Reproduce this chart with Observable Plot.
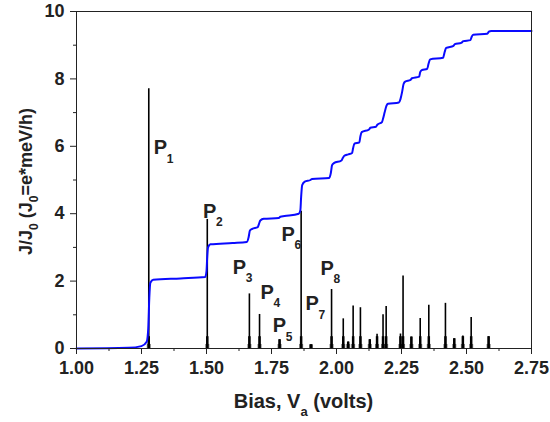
<!DOCTYPE html>
<html><head><meta charset="utf-8">
<script src="https://cdn.jsdelivr.net/npm/d3@7"></script>
<script src="https://cdn.jsdelivr.net/npm/@observablehq/plot@0.6"></script>
<style>
body{margin:0;background:#fff}
svg{font-family:"Liberation Sans",Arial,Helvetica,sans-serif}
</style>
</head><body><div id="chart"></div>
<script>
// Blue curve: current J/J0 vs bias (staircase)
const currentBias = [1.00,1.20,1.25,1.27,1.276,1.28,1.284,1.295,1.40,1.495,1.500,1.503,1.506,1.515,1.60,1.655,1.662,1.667,1.676,1.697,1.702,1.707,1.72,1.778,1.784,1.80,1.855,1.861,1.864,1.868,1.878,1.90,1.906,1.972,1.978,1.983,1.99,2.019,2.024,2.03,2.045,2.06,2.064,2.069,2.088,2.092,2.097,2.125,2.13,2.152,2.157,2.175,2.18,2.185,2.192,2.198,2.24,2.246,2.252,2.258,2.264,2.285,2.29,2.318,2.322,2.328,2.349,2.354,2.36,2.41,2.416,2.422,2.45,2.455,2.48,2.488,2.515,2.52,2.526,2.58,2.586,2.595,2.75];
const currentJ = [0,0.02,0.07,0.2,0.6,1.5,1.95,2.04,2.08,2.12,2.3,2.75,3.0,3.09,3.13,3.16,3.3,3.5,3.55,3.6,3.7,3.8,3.85,3.87,3.91,3.93,4.0,4.1,4.5,4.85,4.95,5.0,5.03,5.06,5.2,5.44,5.5,5.58,5.65,5.72,5.76,5.8,5.95,6.08,6.12,6.3,6.42,6.5,6.55,6.58,6.64,6.72,6.85,7.0,7.2,7.26,7.3,7.4,7.6,7.85,7.92,7.97,8.02,8.07,8.2,8.26,8.3,8.45,8.58,8.63,8.8,8.92,8.98,9.03,9.07,9.12,9.15,9.25,9.31,9.34,9.4,9.42,9.42];

// Black spectrum: resonance peaks (bias position, peak height)
const peakBias = [1.278,1.503,1.665,1.704,1.781,1.864,1.902,1.981,2.026,2.045,2.064,2.092,2.128,2.156,2.179,2.191,2.246,2.256,2.288,2.322,2.355,2.419,2.453,2.486,2.518,2.585];
const peakJ    = [7.71,3.83,1.62,1.01,0.26,4.07,0.11,1.75,0.88,0.19,1.26,1.21,0.26,0.42,1.00,1.25,0.43,2.15,0.34,0.89,1.28,1.34,0.29,0.37,0.92,0.35];

// Peak labels
const labelNum  = ["1","2","3","4","5","6","7","8"];
const labelBias = [1.297,1.487,1.601,1.708,1.755,1.788,1.881,1.938];
const labelJ    = [5.76,3.87,2.22,1.47,0.48,3.20,1.13,2.19];

// Axis ticks
const xTicks = [1.00,1.25,1.50,1.75,2.00,2.25,2.50,2.75];
const xMinor = [1.125,1.375,1.625,1.875,2.125,2.375,2.625];
const yTicks = [0,2,4,6,8,10];
const yMinor = [1,3,5,7,9];

const curve = currentBias.map((b,i)=>({bias:b, j:currentJ[i]}));
const peaks = peakBias.map((b,i)=>({bias:b, j:peakJ[i]}));
const labels = labelNum.map((n,i)=>({n, bias:labelBias[i], j:labelJ[i]}));

const ink = "#222";
const chart = Plot.plot({
  width: 550, height: 422,
  marginLeft: 76, marginRight: 19, marginTop: 11, marginBottom: 74,
  x: {domain: [1, 2.75]},
  y: {domain: [0, 10]},
  style: {fontSize: "18px", fontWeight: "bold", color: ink, background: "#fff", overflow: "visible"},
  marks: [
    // widened feet of the resonance lines
    Plot.ruleX(peaks, {x: "bias", y1: 0, y2: d => Math.min(d.j, 0.12), stroke: "#000", strokeWidth: 4, strokeOpacity: 0.55}),
    Plot.ruleX(peaks, {x: "bias", y1: 0, y2: d => Math.min(d.j, 0.35), stroke: "#000", strokeWidth: 2.5}),
    Plot.ruleX(peaks, {x: "bias", y1: 0, y2: "j", stroke: "#000", strokeWidth: 1.6}),
    Plot.ruleY([0], {stroke: "#000", strokeWidth: 1}),
    Plot.line(curve, {x: "bias", y: "j", stroke: "#0a0aff", strokeWidth: 2, curve: "monotone-x"}),
    Plot.text(labels, {x: "bias", y: "j", text: () => "P", textAnchor: "start", lineAnchor: "middle", dy: -6.4, fontSize: 20, fill: ink}),
    Plot.text(labels, {x: "bias", y: "j", text: "n", textAnchor: "start", lineAnchor: "middle", dx: 13, dy: 4.5, fontSize: 12, fill: ink}),
    Plot.axisX(xTicks, {anchor: "bottom", tickSize: 6, tickPadding: 7, tickFormat: d3.format(".2f"), label: null, stroke: ink}),
    Plot.axisX(xMinor, {anchor: "bottom", tickSize: 3, tickFormat: () => "", label: null, stroke: ink}),
    Plot.axisY(yTicks, {anchor: "left", tickSize: 6, tickPadding: 6, tickFormat: d3.format("d"), label: null, stroke: ink}),
    Plot.axisY(yMinor, {anchor: "left", tickSize: 3, tickFormat: () => "", label: null, stroke: ink}),
    Plot.frame({stroke: ink, strokeWidth: 1})
  ]
});
document.getElementById("chart").append(chart);

const svg = d3.select(chart);
// x axis title
const xt = svg.append("text").attr("x", 303.5).attr("y", 408).attr("text-anchor", "middle")
  .attr("font-size", 20).attr("font-weight", "bold").attr("fill", ink);
xt.append("tspan").text("Bias, V");
xt.append("tspan").attr("font-size", 13).attr("dy", 8).text("a");
xt.append("tspan").attr("dy", -8).text(" (volts)");
// y axis title
const yt = svg.append("text").attr("transform", "translate(32,181.5) rotate(-90)").attr("text-anchor", "middle")
  .attr("font-size", 18).attr("font-weight", "bold").attr("fill", ink);
yt.append("tspan").text("J/J");
yt.append("tspan").attr("font-size", 12).attr("dy", 6).text("0");
yt.append("tspan").attr("dy", -6).text(" (J");
yt.append("tspan").attr("font-size", 12).attr("dy", 6).text("0");
yt.append("tspan").attr("dy", -6).text("=e*meV/h)");
</script>
</body></html>
